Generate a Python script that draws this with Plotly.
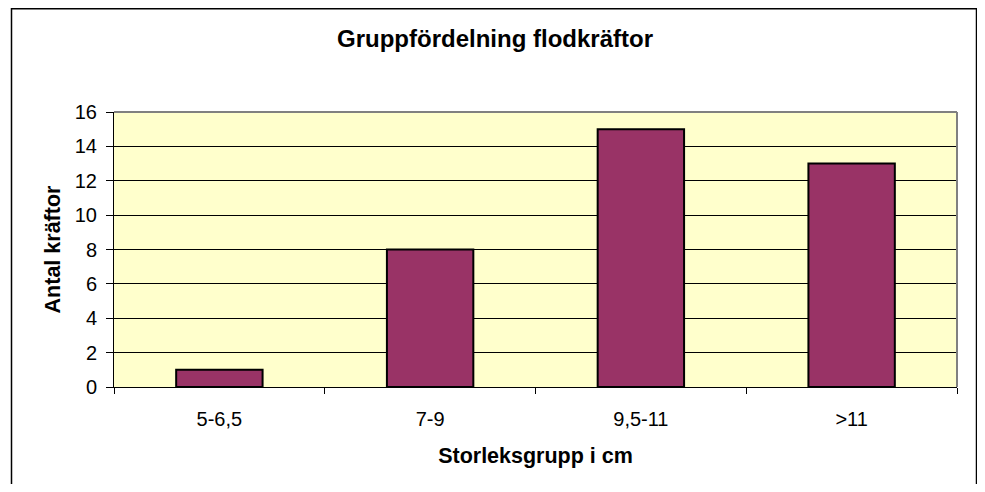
import plotly.graph_objects as go

categories = ["5-6,5", "7-9", "9,5-11", ">11"]
counts = [1, 8, 15, 13]
y_ticks = [0, 2, 4, 6, 8, 10, 12, 14, 16]

title_text = "Gruppfördelning flodkräftor"
x_title = "Storleksgrupp i cm"
y_title = "Antal kräftor"

# The page body has an 8px default margin; size the figure so that it fills
# the 985x492 window exactly, and express positions in window pixels.
OFF = 8
W, H = 985 - 2 * OFF, 492 - 2 * OFF
PL, PR, PT, PB = 114, 957, 112, 387          # plot area in window pixels
L, R = PL - OFF, W - (PR - OFF)
T, B = PT - OFF, H - (PB - OFF)
pw, ph = W - L - R, H - T - B

def px(x):
    return (x - OFF - L) / pw

def py(y):
    return (H - B - (y - OFF)) / ph

FONT = "Liberation Sans, Arial, sans-serif"

fig = go.Figure()
fig.add_trace(go.Bar(
    x=categories, y=counts,
    marker=dict(color="#993366", line=dict(color="#000000", width=2)),
    width=0.41,
    hoverinfo="x+y",
))

fig.update_layout(
    width=W, height=H,
    margin=dict(l=L, r=R, t=T, b=B, pad=0),
    paper_bgcolor="#FFFFFF",
    plot_bgcolor="#FFFFCC",
    showlegend=False,
    font=dict(family=FONT, color="#000000"),
    title=dict(
        text="<b>" + title_text + "</b>",
        font=dict(family=FONT, size=24, color="#000000"),
        x=(495 - OFF) / W, xref="container", xanchor="center",
        y=1 - (39 - OFF) / H, yref="container", yanchor="middle",
    ),
    xaxis=dict(
        type="category",
        showgrid=False,
        showline=True, linecolor="#000000", linewidth=1,
        ticks="outside", ticklen=6, tickcolor="#000000", tickwidth=1,
        tickson="boundaries",
        ticklabelstandoff=14,
        tickfont=dict(family=FONT, size=20, color="#000000"),
        title=dict(text="<b>" + x_title + "</b>",
                   font=dict(family=FONT, size=21.5, color="#000000"),
                   standoff=18),
        zeroline=False,
        fixedrange=True,
    ),
    yaxis=dict(
        range=[0, 16],
        tickvals=y_ticks,
        ticktext=[str(v) for v in y_ticks],
        showgrid=True, gridcolor="#000000", gridwidth=1,
        showline=True, linecolor="#000000", linewidth=1,
        ticks="outside", ticklen=7, tickcolor="#000000", tickwidth=1,
        ticklabelstandoff=5,
        tickfont=dict(family=FONT, size=20, color="#000000"),
        title=dict(text="<b>" + y_title + "</b>",
                   font=dict(family=FONT, size=21.5, color="#000000"),
                   standoff=8),
        zeroline=False,
        fixedrange=True,
    ),
    shapes=[
        # plot area border top and right (gray)
        dict(type="line", xref="paper", yref="paper", x0=0, x1=1, y0=1, y1=1,
             line=dict(color="#808080", width=2), layer="above"),
        dict(type="line", xref="paper", yref="paper", x0=1, x1=1, y0=0, y1=1,
             line=dict(color="#808080", width=2), layer="above"),
        # outer chart border
        dict(type="rect", xref="paper", yref="paper",
             x0=px(11.5), x1=px(976.5), y0=py(510), y1=py(8.8),
             line=dict(color="#000000", width=1.5), fillcolor="rgba(0,0,0,0)",
             layer="above"),
    ],
)

fig.write_html("out.html")
